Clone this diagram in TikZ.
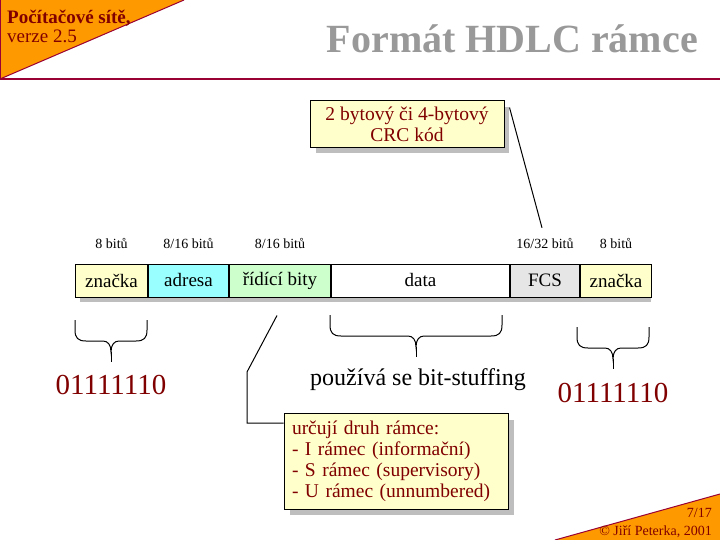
\documentclass[tikz,border=0pt]{standalone}
\usepackage{fontspec}
\setmainfont{Liberation Serif}
\usetikzlibrary{calc, positioning}

\definecolor{orangebg}{RGB}{255,153,0}
\definecolor{linered}{RGB}{153,0,51}
\definecolor{textred}{RGB}{128,0,0}
\definecolor{titlegray}{RGB}{153,153,153}
\definecolor{cellyellow}{RGB}{255,255,204}
\definecolor{cellcyan}{RGB}{153,255,255}
\definecolor{cellgreen}{RGB}{204,255,204}
\definecolor{cellgray}{RGB}{230,230,230}
\definecolor{shadowgray}{RGB}{190,190,190}

\tikzset{
  cell/.style={draw=black, line width=1pt, minimum height=33, inner sep=0pt,
    font=\fontsize{19}{21}\selectfont},
  bits/.style={font=\fontsize{14}{16}\selectfont, inner sep=0pt},
  note/.style={draw=black, line width=1pt, fill=cellyellow, text=textred,
    font=\fontsize{19.5}{21}\selectfont},
  shade/.style={fill=shadowgray},
  brace/.style={line width=1pt},
  link/.style={line width=1pt},
  zeros/.style={text=textred, font=\fontsize{29}{32}\selectfont, inner sep=0pt},
  footer/.style={text=textred, font=\fontsize{14}{16}\selectfont, inner sep=0pt}
}

\begin{document}
\begin{tikzpicture}[x=1pt, y=-1pt]
        \useasboundingbox (0,0) rectangle (720,540);

        % Header corner and rule
        \fill[orangebg] (0,0) -- (184,0) -- (0,79) -- cycle;
        \draw[linered, line width=1pt] (184,0) -- (0,79);
        \draw[linered, line width=1pt] (0.5,0) -- (0.5,79);
        \draw[linered, line width=2pt] (0,79) -- (720,79);
        \node[anchor=base west, text=textred, font=\bfseries\fontsize{19}{21}\selectfont, inner sep=0pt] (course) at (7,24) {Počítačové sítě,};
        \node[anchor=base west, text=textred, font=\fontsize{19}{21}\selectfont, inner sep=0pt] (version) at (7,43) {verze 2.5};
        \node[anchor=base east, text=titlegray, font=\bfseries\fontsize{40}{42}\selectfont, inner sep=0pt] (title) at (698,53) {Formát HDLC rámce};

        % Footer corner
        \fill[orangebg] (555,540) -- (720,494) -- (720,540) -- cycle;
        \draw[linered, line width=1pt] (555,540) -- (720,494);
        \node[footer, anchor=base east] (page) at (712,517) {7/17};
        \node[footer, anchor=base east] (author) at (712,535) {© Jiří Peterka, 2001};

        % Frame fields (shadow first)
        \fill[shade] (80,269) rectangle (651,302);
        \node[cell, fill=cellyellow, minimum width=72, anchor=west] (flag1) at (75,280.5) {značka};
        \node[cell, fill=cellcyan, minimum width=80, right=0pt of flag1] (addr) {adresa};
        \node[cell, fill=cellgreen, minimum width=101, right=0pt of addr] (ctrl) {řídící bity};
        \node[cell, fill=white, minimum width=178, right=0pt of ctrl] (data) {data};
        \node[cell, fill=cellgray, minimum width=69, right=0pt of data] (fcs) {FCS};
        \node[cell, fill=cellyellow, minimum width=71, right=0pt of fcs] (flag2) {značka};

        % Field sizes
        \node[bits, above=15pt of flag1] (bflag1) {8 bitů};
        \node[bits, above=15pt of addr] (baddr) {8/16 bitů};
        \node[bits, above=15pt of ctrl] (bctrl) {8/16 bitů};
        \node[bits, above=15pt of fcs] (bfcs) {16/32 bitů};
        \node[bits, above=15pt of flag2] (bflag2) {8 bitů};

        % CRC note
        \fill[shade] (316,107) rectangle (509,153);
        \node[note, minimum width=194, minimum height=47, inner sep=0pt, align=center] (crc) at (407,124.5) {2 bytový či 4-bytový\\CRC kód};
        \draw[link] ($(crc.north east)+(5,7)$) -- ($(bfcs.north)+(-3,-10)$);

        % Braces under flags and data
        \foreach \xa/\xb/\yt [evaluate=\xa as \xm using (\xa+\xb)/2] in {75/147/320, 330/502/315, 577/649/327} {
          \draw[brace] (\xa,\yt) -- (\xa,\yt+10) .. controls (\xa,\yt+18) and (\xa+3,\yt+21) .. (\xa+11,\yt+21)
            -- (\xm-8,\yt+21) .. controls (\xm-3,\yt+21) and (\xm,\yt+25) .. (\xm,\yt+32)
            .. controls (\xm,\yt+25) and (\xm+3,\yt+21) .. (\xm+8,\yt+21)
            -- (\xb-11,\yt+21) .. controls (\xb-3,\yt+21) and (\xb,\yt+18) .. (\xb,\yt+10) -- (\xb,\yt);
          \draw[brace] (\xm,\yt+32) -- (\xm,\yt+42);
        }
        \node[zeros, anchor=base] (zeros1) at (111,394) {01111110};
        \node[zeros, anchor=base] (zeros2) at (613,402) {01111110};
        \node[anchor=base, font=\fontsize{24}{27}\selectfont, inner sep=0pt] (stuff) at (418,385) {používá se bit-stuffing};

        % Frame types note
        \fill[shade] (290,420) rectangle (514,515);
        \node[note, text width=208, inner sep=8pt, minimum height=95, align=left] (types) at (396,461.5)
          {určují druh rámce:\\- I rámec (informační)\\- S rámec (supervisory)\\- U rámec (unnumbered)};
        \coordinate (bend) at (247,372);
        \coordinate (corner) at (247,423);
        \draw[link] ($(ctrl.south)+(-3,18)$) -- (bend) -- (corner) -- (corner -| types.west);
\end{tikzpicture}
\end{document}
